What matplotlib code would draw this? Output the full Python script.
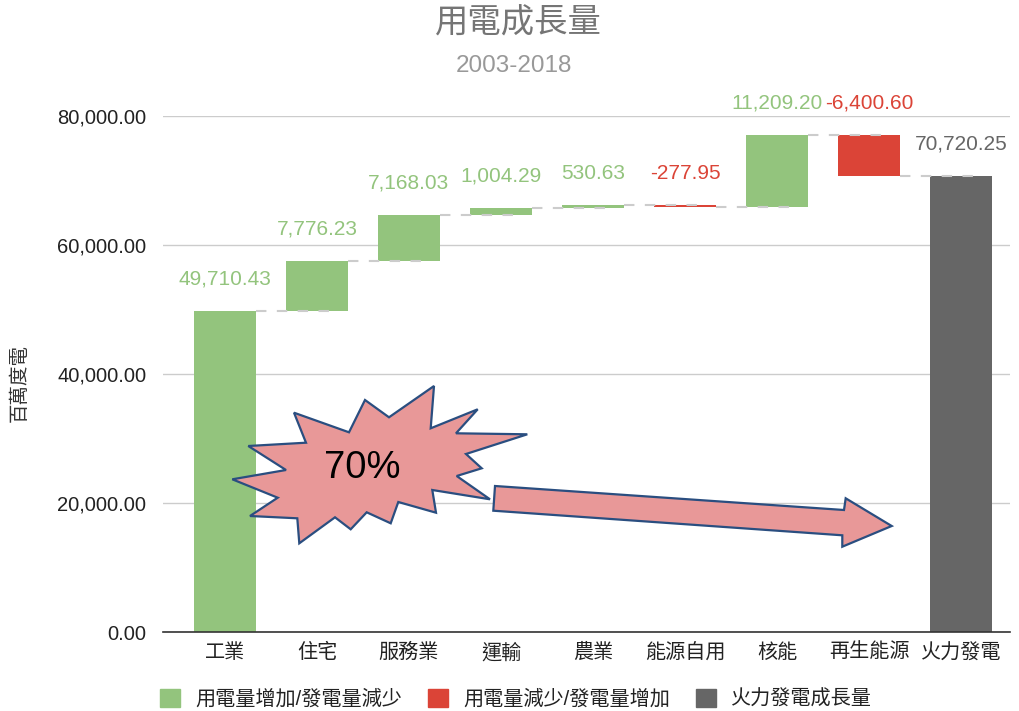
import matplotlib
matplotlib.use("Agg")
import matplotlib.pyplot as plt
from matplotlib.patches import Polygon, Patch
import numpy as np

plt.rcParams['font.family'] = ['Liberation Sans', 'Noto Sans CJK TC', 'DejaVu Sans']

# ---------------- data ----------------
categories = ['工業', '住宅', '服務業', '運輸', '農業', '能源自用', '核能', '再生能源', '火力發電']
changes = [49710.43, 7776.23, 7168.03, 1004.29, 530.63, -277.95, 11209.20, -6400.60]
total_value = 70720.25
yticks = [0, 20000, 40000, 60000, 80000]
title = '用電成長量'
subtitle = '2003-2018'
ylabel = '百萬度電'
legend_labels = ['用電量增加/發電量減少', '用電量減少/發電量增加', '火力發電成長量']
annot_text = '70%'

GREEN = '#93C47D'
RED = '#DB4437'
GRAY = '#666666'
W, H = 1020, 711

fig = plt.figure(figsize=(W / 100, H / 100), dpi=100)
ax = fig.add_axes([163 / W, (H - 632) / H, (1010 - 163) / W, (632 - 116) / H])

x = np.arange(len(categories))
bw = 0.668

# waterfall computation
starts, ends = [], []
run = 0.0
for c in changes:
    starts.append(run)
    run += c
    ends.append(run)

label_off = 32 * 80000 / 516  # ~32 px above bar top

for i, c in enumerate(changes):
    lo, hi = min(starts[i], ends[i]), max(starts[i], ends[i])
    col = GREEN if c >= 0 else RED
    ax.bar(x[i], hi - lo, bottom=lo, width=bw, color=col, zorder=3)
    ax.text(x[i], hi + label_off, f"{c:,.2f}", color=col, fontsize=15,
            ha='center', va='center', clip_on=False, zorder=5)

# total bar
ti = len(changes)
ax.bar(x[ti], total_value, bottom=0, width=bw, color=GRAY, zorder=3)
ax.text(x[ti], total_value + label_off, f"{total_value:,.2f}", color=GRAY, fontsize=15,
        ha='center', va='center', clip_on=False, zorder=5)

# connectors
for i in range(len(changes)):
    lvl = ends[i]
    ax.plot([x[i] + bw / 2, x[i + 1] + bw / 2 - 0.1], [lvl, lvl], color='#cccccc',
            lw=1.5, dashes=(5, 5), zorder=4)

ax.set_xlim(-0.674, 8.533)
ax.set_ylim(0, 80000)
ax.set_yticks(yticks)
ax.set_yticklabels([f"{v:,.2f}" for v in yticks], fontsize=14.5, color='#222222')
ax.set_xticks(x)
ax.set_xticklabels(categories, fontsize=14.5, color='#222222')
ax.tick_params(axis='both', length=0)
ax.tick_params(axis='y', pad=12)
ax.tick_params(axis='x', pad=8)
ax.grid(axis='y', color='#cccccc', lw=1, zorder=0)
for s in ['top', 'right', 'left']:
    ax.spines[s].set_visible(False)
ax.spines['bottom'].set_color('#333333')
ax.spines['bottom'].set_linewidth(1.2)
ax.spines['bottom'].set_zorder(4)

# titles
fig.text(518 / W, 1 - 24 / H, title, ha='center', va='center', fontsize=24, color='#757575')
fig.text(514 / W, 1 - 66 / H, subtitle, ha='center', va='center', fontsize=17.5, color='#999999')
fig.text(20 / W, 1 - 383 / H, ylabel, ha='center', va='center', rotation=90, fontsize=14,
         color='#333333')

# legend
handles = [Patch(color=GREEN), Patch(color=RED), Patch(color=GRAY)]
fig.legend(handles, legend_labels, loc='center', bbox_to_anchor=(516 / W, 1 - 699 / H),
           ncol=3, frameon=False, fontsize=14.5, handlelength=1.0, handleheight=1.0,
           handletextpad=0.75, columnspacing=1.3, labelcolor='#222222')

# annotation: starburst and arrow (in figure pixel coordinates)
def fpts(pts):
    return [(px / W, 1 - py / H) for px, py in pts]

burst = [(248.3, 446), (306, 442.7), (294, 412.7), (349, 432.3), (365, 400), (389, 417.3),
         (434, 386), (430.7, 428.3), (477.7, 409.3), (456, 433.3), (527.3, 434.3),
         (466, 454), (481.7, 468.3), (456.7, 476), (490, 499.3), (432.3, 490),
         (436, 512.7), (398.3, 502), (390.7, 523.3), (366.7, 512.3), (350.7, 529.3),
         (335, 517.3), (299.3, 543.3), (297.3, 518.3), (250, 516), (277.7, 497.7),
         (232.3, 479.3), (286, 470)]
arrow = [(495, 486), (844, 510), (845.7, 498.3), (891.7, 526), (842.3, 546.7),
         (842.3, 535.3), (493.3, 510.7)]
for shape in (burst, arrow):
    p = Polygon(fpts(shape), closed=True, transform=fig.transFigure, facecolor='#E89898',
                edgecolor='#2A4E80', lw=1.6, zorder=10)
    fig.patches.append(p)
fig.text(362 / W, 1 - 468 / H, annot_text, ha='center', va='center', fontsize=27.5,
         color='black', zorder=11)

fig.savefig('out.png', dpi=100)
